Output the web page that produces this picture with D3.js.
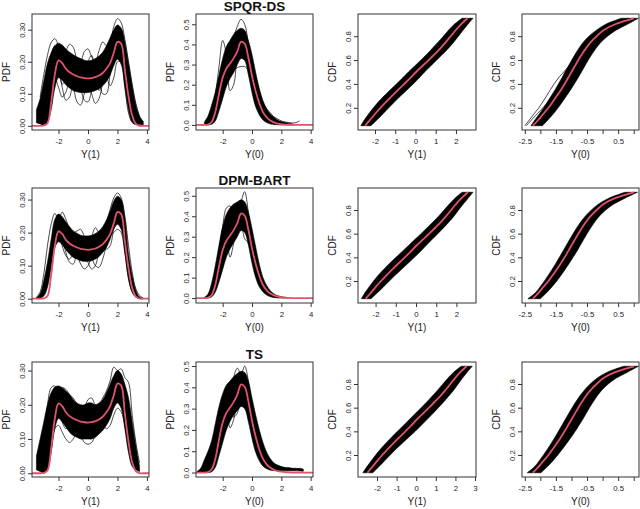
<!DOCTYPE html>
<html>
<head>
<meta charset="utf-8">
<script src="https://cdn.jsdelivr.net/npm/d3@7"></script>
<style>
  body { margin: 0; background: #fff; }
  svg { display: block; font-family: "Liberation Sans", Arial, sans-serif; }
</style>
</head>
<body>
<svg id="chart" width="640" height="509"></svg>
<script>
const _ = null;

// x grid shared by the density panels
const XGRID = [-4,-3.75,-3.5,-3.25,-3,-2.75,-2.5,-2.25,-2,-1.75,-1.5,-1.25,-1,-0.75,-0.5,-0.25,0,0.25,0.5,0.75,1,1.25,1.5,1.75,2,2.25,2.5,2.75,3,3.25,3.5,3.75,4,4.25];
// probability levels for the cdf panels
const TAU = [0.05,0.1,0.15,0.2,0.25,0.3,0.35,0.4,0.45,0.5,0.55,0.6,0.65,0.7,0.75,0.8,0.85,0.9,0.95];

// true curves (red)
const truePdfY1 = [0,0,0,0,0.001,0.008,0.072,0.16,0.204,0.196,0.178,0.167,0.16,0.155,0.151,0.149,0.148,0.149,0.152,0.157,0.165,0.178,0.196,0.228,0.262,0.256,0.175,0.092,0.032,0.006,0,0,0,0];
const truePdfY0 = [0,0,0,0,0.002,0.015,0.065,0.155,0.235,0.28,0.305,0.332,0.366,0.413,0.403,0.335,0.243,0.168,0.108,0.064,0.038,0.022,0.013,0.007,0.004,0.002,0.001,0,0,0,0,0,0,0];
const trueQY1 = [-2.49,-2.24,-1.99,-1.73,-1.45,-1.16,-0.86,-0.55,-0.25,0.03,0.34,0.65,0.95,1.24,1.5,1.74,1.98,2.25,2.57];
const trueQY0 = [-2.24,-2.06,-1.9,-1.74,-1.6,-1.47,-1.34,-1.22,-1.11,-1.0,-0.89,-0.78,-0.66,-0.53,-0.38,-0.19,0.03,0.4,1.01];

// SPQR-DS, pdf Y(1): dense band and a few stray draws
const spqrPdf1Lo = [_,_,0.01,0.006,0.003,0.012,0.05,0.118,0.15,0.142,0.128,0.118,0.11,0.106,0.104,0.103,0.104,0.106,0.11,0.116,0.125,0.138,0.158,0.188,0.208,0.192,0.122,0.05,0.012,0.004,0.004,0.003,_,_];
const spqrPdf1Hi = [_,_,0.05,0.085,0.14,0.195,0.228,0.25,0.258,0.252,0.24,0.23,0.222,0.215,0.21,0.205,0.203,0.205,0.21,0.218,0.23,0.25,0.275,0.3,0.315,0.305,0.262,0.195,0.125,0.065,0.03,0.014,_,_];
const spqrPdf1Draws = [
  [_,_,_,0.09,0.16,0.22,0.26,0.272,0.25,0.22,0.235,0.255,0.245,0.21,0.2,0.232,0.24,0.215,0.2,0.235,0.262,0.25,0.26,0.31,0.335,0.322,0.27,0.2,0.13,0.07,0.03,_,_,_],
  [_,_,_,0.012,0.01,0.03,0.09,0.15,0.12,0.09,0.105,0.14,0.12,0.075,0.065,0.1,0.13,0.1,0.07,0.085,0.13,0.15,0.125,0.15,0.2,0.2,0.12,0.04,0.01,0.005,_,_,_,_],
  [_,_,_,0.02,0.05,0.12,0.22,0.25,0.2,0.13,0.15,0.21,0.22,0.17,0.12,0.14,0.2,0.22,0.16,0.11,0.14,0.2,0.22,0.24,0.29,0.3,0.24,0.15,0.07,0.03,0.015,_,_,_],
  [_,_,_,_,0.005,0.05,0.14,0.2,0.18,0.12,0.08,0.09,0.14,0.16,0.12,0.08,0.075,0.11,0.15,0.14,0.1,0.1,0.16,0.22,0.25,0.24,0.17,0.08,0.02,0.01,_,_,_,_]
];
// SPQR-DS, pdf Y(0)
const spqrPdf0Lo = [_,_,_,0,0,0.004,0.02,0.07,0.13,0.19,0.23,0.26,0.3,0.33,0.32,0.25,0.16,0.09,0.05,0.025,0.012,0.005,0.002,0.001,0,0,0,0,_,_,_,_,_,_];
const spqrPdf0Hi = [_,_,_,0.015,0.045,0.1,0.165,0.25,0.33,0.39,0.42,0.45,0.47,0.48,0.47,0.42,0.35,0.26,0.18,0.12,0.08,0.055,0.038,0.025,0.017,0.012,0.009,0.006,_,_,_,_,_,_];
const spqrPdf0Draws = [
  [_,_,_,_,0.01,0.05,0.15,0.29,0.42,0.35,0.17,0.2,0.36,0.45,0.43,0.35,0.26,0.18,0.11,0.06,0.03,0.015,0.006,0.002,_,_,_,_,_,_,_,_,_,_],
  [_,_,_,_,_,0.01,0.04,0.1,0.17,0.22,0.25,0.27,0.285,0.29,0.29,0.27,0.23,0.18,0.13,0.09,0.06,0.04,0.025,0.015,0.01,_,_,_,_,_,_,_,_,_],
  [_,_,_,_,0.005,0.03,0.09,0.17,0.26,0.33,0.39,0.44,0.49,0.525,0.5,0.4,0.27,0.16,0.09,0.05,0.03,0.02,0.012,0.008,0.005,_,_,_,_,_,_,_,_,_],
  [_,_,_,_,0.005,0.03,0.1,0.2,0.27,0.31,0.33,0.35,0.38,0.4,0.38,0.33,0.3,0.24,0.17,0.11,0.08,0.06,0.04,0.03,0.02,0.015,0.012,0.01,0.012,0.02,_,_,_,_]
];
// SPQR-DS, cdf panels
const spqrCdf1Lo = [-2.7,-2.52,-2.31,-2.08,-1.83,-1.55,-1.25,-0.94,-0.64,-0.35,-0.04,0.27,0.57,0.86,1.13,1.38,1.63,1.92,2.3];
const spqrCdf1Hi = [-2.2,-1.89,-1.6,-1.32,-1.03,-0.73,-0.42,-0.11,0.18,0.45,0.75,1.05,1.35,1.63,1.89,2.12,2.35,2.59,2.84];
const spqrCdf1Draws = [
  [-2.5,-2.26,-2.0,-1.74,-1.46,-1.17,-0.87,-0.56,-0.27,0.02,0.22,0.42,0.62,0.84,1.12,1.43,1.76,2.1,2.5],
  [-2.3,-2.05,-1.8,-1.5,-1.2,-0.85,-0.5,-0.2,0.05,0.3,0.6,0.92,1.22,1.5,1.76,2.0,2.22,2.46,2.72]
];
const spqrCdf0Lo = [-2.3,-2.17,-2.03,-1.89,-1.77,-1.65,-1.53,-1.42,-1.31,-1.21,-1.1,-0.99,-0.88,-0.76,-0.62,-0.44,-0.2,0.1,0.6];
const spqrCdf0Hi = [-1.93,-1.75,-1.58,-1.43,-1.29,-1.16,-1.03,-0.91,-0.79,-0.68,-0.57,-0.46,-0.34,-0.21,-0.05,0.16,0.43,0.8,1.15];
const spqrCdf0Draws = [
  [-2.5,-2.35,-2.2,-2.05,-1.92,-1.8,-1.68,-1.56,-1.42,-1.25,-1.08,-0.92,-0.76,-0.6,-0.43,-0.23,0.0,0.35,0.95],
  [-2.45,-2.28,-2.1,-1.92,-1.76,-1.62,-1.49,-1.37,-1.25,-1.14,-1.03,-0.92,-0.8,-0.67,-0.52,-0.33,-0.08,0.25,0.85]
];

// DPM-BART
const dpmPdf1Lo = [_,_,0,0.002,0.008,0.035,0.095,0.155,0.172,0.163,0.148,0.135,0.125,0.12,0.115,0.113,0.113,0.115,0.12,0.128,0.14,0.155,0.18,0.21,0.225,0.21,0.14,0.06,0.02,0.005,0.001,0,_,_];
const dpmPdf1Hi = [_,_,0.003,0.015,0.055,0.11,0.18,0.24,0.256,0.248,0.232,0.218,0.205,0.198,0.192,0.19,0.19,0.192,0.197,0.205,0.218,0.238,0.265,0.295,0.31,0.3,0.245,0.135,0.07,0.025,0.005,0.001,_,_];
const dpmPdf1Draws = [
  [_,_,0.004,0.02,0.075,0.16,0.225,0.258,0.24,0.262,0.24,0.21,0.2,0.205,0.21,0.19,0.175,0.19,0.215,0.2,0.2,0.23,0.27,0.305,0.32,0.305,0.25,0.16,0.08,0.03,0.01,0.002,_,_],
  [_,_,0.002,0.006,0.02,0.06,0.13,0.19,0.2,0.16,0.13,0.12,0.135,0.13,0.105,0.09,0.1,0.12,0.1,0.095,0.12,0.16,0.19,0.2,0.21,0.2,0.14,0.06,0.02,0.005,0.001,_,_,_],
  [_,_,0.001,0.004,0.015,0.05,0.12,0.2,0.23,0.19,0.14,0.11,0.105,0.14,0.165,0.14,0.11,0.09,0.1,0.14,0.16,0.15,0.16,0.215,0.27,0.27,0.2,0.1,0.035,0.01,0.003,_,_,_]
];
const dpmPdf0Lo = [_,_,_,0,0,0.006,0.03,0.08,0.14,0.2,0.24,0.27,0.3,0.33,0.32,0.26,0.17,0.1,0.055,0.03,0.015,0.007,0.003,0.001,0,0,0,_,_,_,_,_,_,_];
const dpmPdf0Hi = [_,_,_,0.003,0.02,0.075,0.16,0.26,0.35,0.41,0.44,0.46,0.47,0.48,0.47,0.42,0.34,0.25,0.165,0.1,0.062,0.036,0.02,0.012,0.007,0.004,0.002,_,_,_,_,_,_,_];
const dpmPdf0Draws = [
  [_,_,_,_,_,0.02,0.08,0.2,0.33,0.3,0.2,0.27,0.38,0.43,0.44,0.38,0.28,0.19,0.11,0.06,0.03,0.015,0.006,0.002,_,_,_,_,_,_,_,_,_,_],
  [_,_,_,_,_,_,0.05,0.13,0.22,0.3,0.36,0.4,0.42,0.47,0.52,0.42,0.29,0.19,0.11,0.06,0.03,0.015,0.006,_,_,_,_,_,_,_,_,_,_,_],
  [_,_,_,_,_,_,0.06,0.15,0.25,0.31,0.33,0.35,0.37,0.36,0.29,0.27,0.24,0.18,0.12,0.07,0.04,0.02,0.01,_,_,_,_,_,_,_,_,_,_,_],
  [_,_,_,_,_,0.03,0.1,0.22,0.35,0.44,0.45,0.42,0.41,0.42,0.4,0.34,0.25,0.17,0.1,0.05,0.025,0.01,_,_,_,_,_,_,_,_,_,_,_,_]
];
const dpmCdf1Lo = [-2.7,-2.53,-2.32,-2.1,-1.86,-1.59,-1.3,-0.99,-0.68,-0.37,-0.06,0.25,0.55,0.85,1.13,1.39,1.65,1.93,2.28];
const dpmCdf1Hi = [-2.22,-1.91,-1.61,-1.32,-1.02,-0.71,-0.39,-0.08,0.22,0.5,0.79,1.08,1.37,1.64,1.89,2.11,2.34,2.58,2.82];
const dpmCdf1Draws = [
  [-2.55,-2.32,-2.08,-1.83,-1.56,-1.27,-0.95,-0.62,-0.3,0.0,0.3,0.6,0.9,1.18,1.44,1.68,1.92,2.2,2.55]
];
const dpmCdf0Lo = [-2.4,-2.16,-2.01,-1.87,-1.74,-1.62,-1.5,-1.39,-1.28,-1.17,-1.06,-0.95,-0.83,-0.7,-0.55,-0.36,-0.13,0.2,0.72];
const dpmCdf0Hi = [-2.0,-1.8,-1.63,-1.47,-1.33,-1.2,-1.07,-0.95,-0.83,-0.72,-0.61,-0.5,-0.38,-0.25,-0.1,0.1,0.36,0.72,1.12];
const dpmCdf0Draws = [];

// TS
const tsPdf1Lo = [_,_,0.01,0.005,0,0.01,0.06,0.13,0.16,0.15,0.135,0.12,0.11,0.105,0.1,0.1,0.1,0.1,0.105,0.115,0.125,0.14,0.16,0.19,0.205,0.19,0.13,0.06,0.02,0.01,0.005,_,_,_];
const tsPdf1Hi = [_,_,0.05,0.1,0.15,0.2,0.235,0.252,0.255,0.25,0.24,0.23,0.215,0.205,0.2,0.2,0.205,0.205,0.2,0.205,0.215,0.235,0.26,0.285,0.3,0.29,0.26,0.22,0.15,0.08,0.02,_,_,_];
const tsPdf1Draws = [
  [_,_,_,0.05,0.12,0.2,0.25,0.255,0.24,0.25,0.245,0.23,0.22,0.2,0.18,0.19,0.215,0.22,0.2,0.2,0.22,0.24,0.27,0.31,0.3,0.305,0.28,0.265,0.17,0.09,0.03,_,_,_],
  [_,_,_,0.02,0.03,0.06,0.1,0.13,0.14,0.12,0.1,0.09,0.1,0.12,0.11,0.09,0.085,0.09,0.11,0.13,0.14,0.13,0.14,0.17,0.19,0.18,0.14,0.08,0.03,0.01,_,_,_,_],
  [_,_,0.03,0.04,0.09,0.17,0.23,0.24,0.2,0.15,0.13,0.15,0.19,0.2,0.16,0.12,0.11,0.14,0.19,0.2,0.17,0.15,0.17,0.23,0.28,0.28,0.22,0.13,0.06,0.02,0.01,_,_,_]
];
const tsPdf0Lo = [_,0,0,0,0,0.004,0.025,0.08,0.14,0.2,0.24,0.27,0.29,0.31,0.3,0.24,0.16,0.095,0.055,0.03,0.018,0.012,0.009,0.008,0.008,0.008,0.008,0.008,0.008,0.007,0.006,_,_,_];
const tsPdf0Hi = [_,0.005,0.02,0.06,0.1,0.15,0.23,0.31,0.37,0.41,0.43,0.45,0.465,0.475,0.47,0.43,0.35,0.27,0.2,0.14,0.095,0.065,0.045,0.035,0.028,0.024,0.022,0.02,0.02,0.018,0.015,_,_,_];
const tsPdf0Draws = [
  [_,_,_,_,_,0.02,0.07,0.16,0.27,0.33,0.21,0.25,0.36,0.42,0.41,0.35,0.26,0.17,0.1,0.05,0.025,0.01,_,_,_,_,_,_,_,_,_,_,_,_],
  [_,_,_,_,_,_,0.06,0.15,0.25,0.33,0.39,0.45,0.49,0.46,0.5,0.43,0.3,0.19,0.11,0.06,0.03,0.015,_,_,_,_,_,_,_,_,_,_,_,_],
  [_,_,_,_,_,_,0.05,0.13,0.22,0.28,0.3,0.26,0.28,0.33,0.34,0.3,0.23,0.16,0.1,0.06,0.03,0.015,_,_,_,_,_,_,_,_,_,_,_,_],
  [_,_,_,0.04,0.08,0.12,0.2,0.28,0.34,0.38,0.4,0.42,0.44,0.45,0.43,0.38,0.3,0.22,0.15,0.1,0.07,0.05,0.04,0.03,0.025,0.02,0.022,0.018,0.015,0.02,0.015,_,_,_]
];
const tsCdf1Lo = [-2.72,-2.52,-2.3,-2.07,-1.82,-1.55,-1.26,-0.96,-0.65,-0.35,-0.05,0.25,0.55,0.83,1.1,1.36,1.62,1.91,2.29];
const tsCdf1Hi = [-2.21,-1.91,-1.62,-1.33,-1.03,-0.71,-0.38,-0.05,0.25,0.55,0.85,1.13,1.41,1.67,1.92,2.14,2.36,2.6,2.86];
const tsCdf1Draws = [];
const tsCdf0Lo = [-2.42,-2.19,-2.04,-1.9,-1.77,-1.65,-1.53,-1.42,-1.31,-1.2,-1.09,-0.98,-0.86,-0.73,-0.58,-0.4,-0.17,0.15,0.68];
const tsCdf0Hi = [-1.98,-1.78,-1.6,-1.44,-1.29,-1.15,-1.01,-0.88,-0.76,-0.64,-0.53,-0.42,-0.3,-0.17,-0.02,0.18,0.44,0.8,1.15];
const tsCdf0Draws = [];

const METHODS = ["SPQR-DS", "DPM-BART", "TS"];

// ---- layout ----
const BOX_X = [[32,149],[196,313],[358,476],[522,639]];
const BOX_Y = [[14,130],[188,303],[362,477]];
const RED = "#df536b";
const INK = "#222";

const svg = d3.select("#chart");

const panels = [
  [
    {kind:"pdf", lo:spqrPdf1Lo, hi:spqrPdf1Hi, draws:spqrPdf1Draws, truth:truePdfY1, xd:[-3.8,4.14], yd:[-0.013,0.349]},
    {kind:"pdf", lo:spqrPdf0Lo, hi:spqrPdf0Hi, draws:spqrPdf0Draws, truth:truePdfY0, xd:[-3.82,4.16], yd:[-0.025,0.551]},
    {kind:"cdf", lo:spqrCdf1Lo, hi:spqrCdf1Hi, draws:spqrCdf1Draws, truth:trueQY1, xd:[-2.84,2.99], yd:[0.014,0.986]},
    {kind:"cdf", lo:spqrCdf0Lo, hi:spqrCdf0Hi, draws:spqrCdf0Draws, truth:trueQY0, xd:[-2.59,1.17], yd:[0.014,0.986]}
  ],
  [
    {kind:"pdf", lo:dpmPdf1Lo, hi:dpmPdf1Hi, draws:dpmPdf1Draws, truth:truePdfY1, xd:[-3.8,4.14], yd:[-0.013,0.335]},
    {kind:"pdf", lo:dpmPdf0Lo, hi:dpmPdf0Hi, draws:dpmPdf0Draws, truth:truePdfY0, xd:[-3.82,4.16], yd:[-0.024,0.538]},
    {kind:"cdf", lo:dpmCdf1Lo, hi:dpmCdf1Hi, draws:dpmCdf1Draws, truth:trueQY1, xd:[-2.87,2.97], yd:[0.014,0.986]},
    {kind:"cdf", lo:dpmCdf0Lo, hi:dpmCdf0Hi, draws:dpmCdf0Draws, truth:trueQY0, xd:[-2.59,1.17], yd:[0.014,0.986]}
  ],
  [
    {kind:"pdf", lo:tsPdf1Lo, hi:tsPdf1Hi, draws:tsPdf1Draws, truth:truePdfY1, xd:[-3.8,4.14], yd:[-0.011,0.325]},
    {kind:"pdf", lo:tsPdf0Lo, hi:tsPdf0Hi, draws:tsPdf0Draws, truth:truePdfY0, xd:[-3.82,4.16], yd:[-0.021,0.519]},
    {kind:"cdf", lo:tsCdf1Lo, hi:tsCdf1Hi, draws:tsCdf1Draws, truth:trueQY1, xd:[-2.97,3.05], yd:[0.014,0.986]},
    {kind:"cdf", lo:tsCdf0Lo, hi:tsCdf0Hi, draws:tsCdf0Draws, truth:trueQY0, xd:[-2.59,1.17], yd:[0.014,0.986]}
  ]
];

// per column axis settings
const colAxes = [
  {xt:[-2,0,2,4], xf:d => String(d), yt:[0,0.1,0.2,0.3], yf:d => d.toFixed(2), xl:"Y(1)", yl:"PDF"},
  {xt:[-2,0,2,4], xf:d => String(d), yt:[0,0.1,0.2,0.3,0.4,0.5], yf:d => d.toFixed(1), xl:"Y(0)", yl:"PDF"},
  {xt:[-2,-1,0,1,2,3], xf:d => String(d), yt:[0.2,0.4,0.6,0.8], yf:d => d.toFixed(1), xl:"Y(1)", yl:"CDF"},
  {xt:[-2.5,-2,-1.5,-1,-0.5,0,0.5,1], xf:d => [-2.5,-1.5,-0.5,0.5].includes(d) ? d.toFixed(1) : "",
   yt:[0.2,0.4,0.6,0.8], yf:d => d.toFixed(1), xl:"Y(0)", yl:"CDF"}
];

panels.forEach((row, r) => {
  row.forEach((p, c) => drawPanel(p, r, c));
});

function drawPanel(p, r, c) {
  const [x0, x1] = BOX_X[c];
  const [y0, y1] = BOX_Y[r];
  const ax = colAxes[c];
  const x = d3.scaleLinear().domain(p.xd).range([x0, x1]);
  const y = d3.scaleLinear().domain(p.yd).range([y1, y0]);
  const id = `clip-${r}-${c}`;

  svg.append("clipPath").attr("id", id)
    .append("rect").attr("x", x0).attr("y", y0).attr("width", x1 - x0).attr("height", y1 - y0);

  const g = svg.append("g").attr("clip-path", `url(#${id})`);

  if (p.kind === "pdf") {
    const idx = XGRID.map((d, i) => i);
    const band = d3.area()
      .defined(i => p.lo[i] != null && p.hi[i] != null)
      .x(i => x(XGRID[i]))
      .y0(i => y(p.lo[i]))
      .y1(i => y(p.hi[i]))
      .curve(d3.curveCatmullRom);
    g.append("path").attr("d", band(idx))
      .attr("fill", "#000").attr("stroke", "#000").attr("stroke-width", 0.6);

    p.draws.forEach(vals => {
      const line = d3.line()
        .defined(i => vals[i] != null)
        .x(i => x(XGRID[i]))
        .y(i => y(vals[i]))
        .curve(d3.curveCatmullRom);
      g.append("path").attr("d", line(idx))
        .attr("fill", "none").attr("stroke", "#000").attr("stroke-width", 0.7);
    });

    const truth = d3.line()
      .x(i => x(XGRID[i]))
      .y(i => y(p.truth[i]))
      .curve(d3.curveCatmullRom);
    g.append("path").attr("d", truth(idx))
      .attr("fill", "none").attr("stroke", RED).attr("stroke-width", 1.8);
  } else {
    const idx = TAU.map((d, i) => i);
    const band = d3.area()
      .y(i => y(TAU[i]))
      .x0(i => x(p.lo[i]))
      .x1(i => x(p.hi[i]))
      .curve(d3.curveCatmullRom);
    g.append("path").attr("d", band(idx))
      .attr("fill", "#000").attr("stroke", "#000").attr("stroke-width", 0.6);

    p.draws.forEach(vals => {
      const line = d3.line()
        .x(i => x(vals[i]))
        .y(i => y(TAU[i]))
        .curve(d3.curveCatmullRom);
      g.append("path").attr("d", line(idx))
        .attr("fill", "none").attr("stroke", "#000").attr("stroke-width", 0.7);
    });

    const truth = d3.line()
      .x(i => x(p.truth[i]))
      .y(i => y(TAU[i]))
      .curve(d3.curveCatmullRom);
    g.append("path").attr("d", truth(idx))
      .attr("fill", "none").attr("stroke", RED).attr("stroke-width", 1.8);
  }

  // box
  svg.append("rect")
    .attr("x", x0).attr("y", y0).attr("width", x1 - x0).attr("height", y1 - y0)
    .attr("fill", "none").attr("stroke", "#333").attr("stroke-width", 1);

  // x axis
  const xticks = ax.xt.filter(v => v >= p.xd[0] && v <= p.xd[1]);
  const gx = svg.append("g")
    .attr("transform", `translate(0,${y1})`)
    .call(d3.axisBottom(x).tickValues(xticks).tickSize(4).tickPadding(4).tickFormat(ax.xf));
  gx.select(".domain").remove();
  gx.selectAll("line").attr("stroke", "#333");
  gx.selectAll("text").attr("fill", INK).style("font-size", "7.8px").style("font-family", null);

  // y axis, labels turned like R's las = 0
  const gy = svg.append("g")
    .attr("transform", `translate(${x0},0)`)
    .call(d3.axisLeft(y).tickValues(ax.yt).tickSize(4).tickFormat(ax.yf));
  gy.select(".domain").remove();
  gy.selectAll("line").attr("stroke", "#333");
  gy.selectAll("text")
    .attr("transform", "rotate(-90)")
    .attr("x", 0).attr("y", -7.5).attr("dy", null)
    .attr("text-anchor", "middle")
    .attr("fill", INK).style("font-size", "7.8px").style("font-family", null);

  // axis titles
  svg.append("text")
    .attr("x", (x0 + x1) / 2).attr("y", y1 + 27.5)
    .attr("text-anchor", "middle").attr("fill", INK)
    .style("font-size", "10px")
    .text(ax.xl);
  svg.append("text")
    .attr("transform", `translate(${x0 - 22},${(y0 + y1) / 2}) rotate(-90)`)
    .attr("text-anchor", "middle").attr("fill", INK)
    .style("font-size", "10px")
    .text(ax.yl);

  if (c === 1) {
    svg.append("text")
      .attr("x", (x0 + x1) / 2).attr("y", y0 - 3.5)
      .attr("text-anchor", "middle").attr("fill", "#111")
      .style("font-size", "13.5px").style("font-weight", "bold")
      .text(METHODS[r]);
  }
}
</script>
</body>
</html>
